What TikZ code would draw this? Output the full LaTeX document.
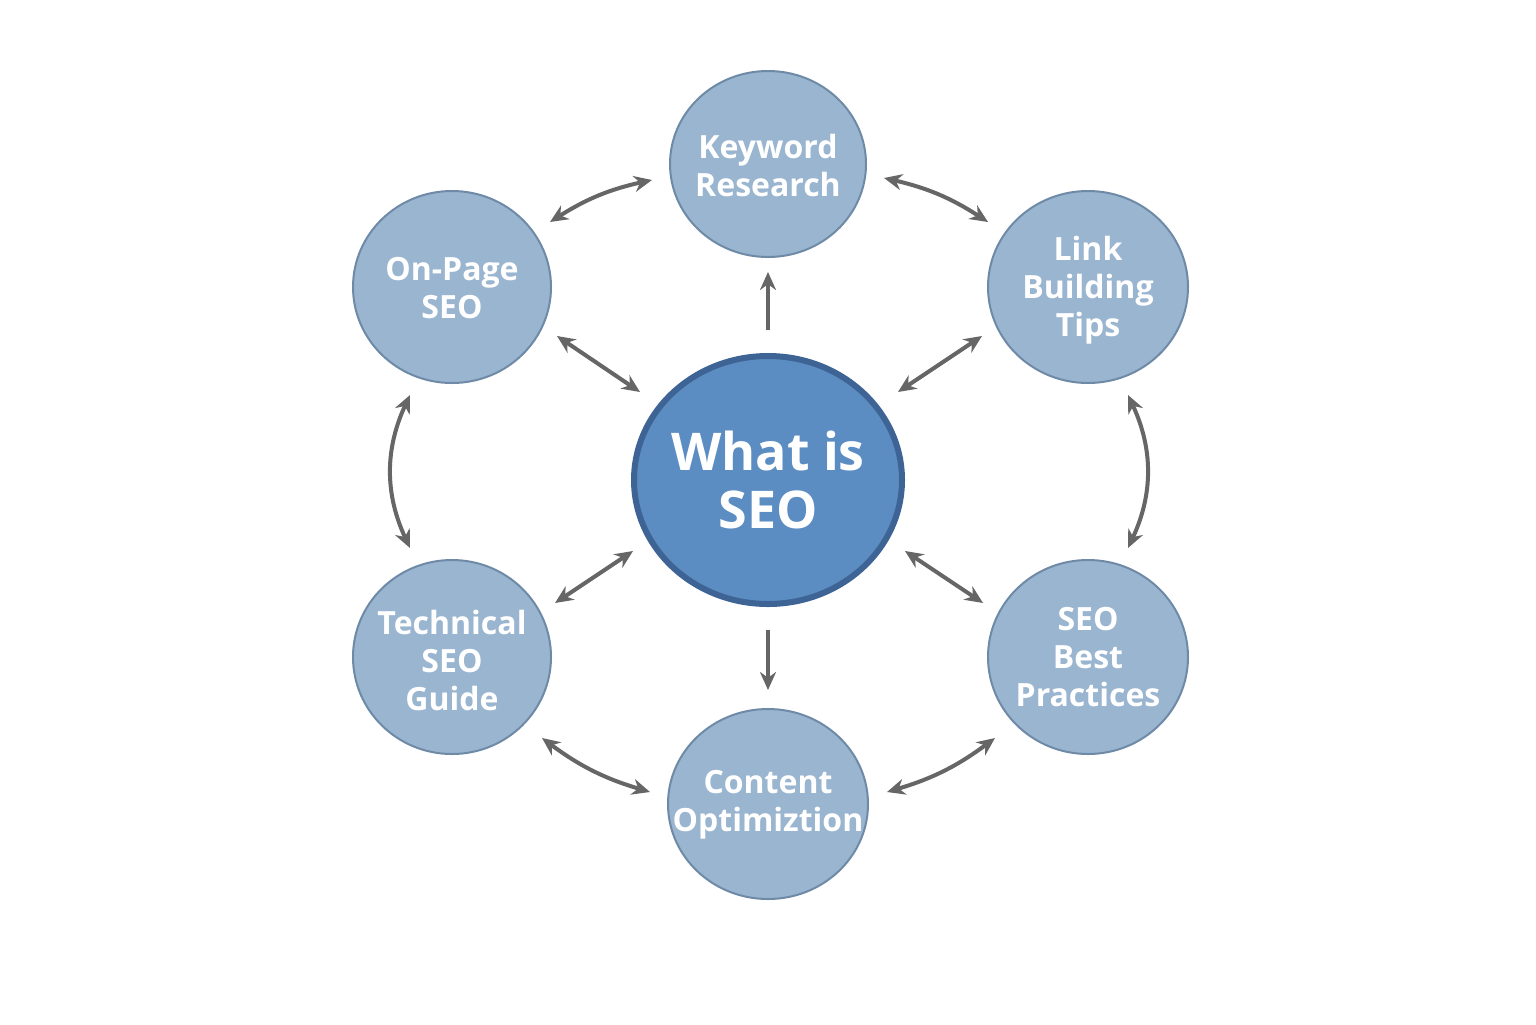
\documentclass[tikz,border=0pt]{standalone}
\usepackage{fontspec}
\setmainfont{Open Sans}
\usetikzlibrary{arrows.meta}
\definecolor{outerfill}{HTML}{9AB5D0}
\definecolor{outerline}{HTML}{6F8AA6}
\definecolor{cfill}{HTML}{5B8CC2}
\definecolor{cline}{HTML}{3D6494}
\definecolor{arr}{HTML}{666666}
\begin{document}
\begin{tikzpicture}[x=0.5pt,y=-0.5pt,
 outer/.style={ellipse-ish},
 bub/.style={draw=outerline,fill=outerfill,line width=1pt,text=white,font=\bfseries\fontsize{16}{19}\selectfont,align=center},
 con/.style={draw=arr,line width=2pt,{Stealth[length=9pt,width=8pt]}-{Stealth[length=9pt,width=8pt]}},
 one/.style={draw=arr,line width=2pt,-{Stealth[length=9pt,width=8pt]}}]
\tikzset{ellipse-ish/.style={}}
\useasboundingbox (0,0) rectangle (1536,1024);
\fill[white] (0,0) rectangle (1536,1024);
\newcommand{\bubble}[5]{\draw[draw=outerline,fill=outerfill,line width=1pt] (#2,#3) ellipse [x radius=#4*0.5pt, y radius=#5*0.5pt];}
% outer bubbles
\draw[draw=outerline,fill=outerfill,line width=1pt] (768,164) ellipse [x radius=49pt,y radius=46.5pt];
\draw[draw=outerline,fill=outerfill,line width=1pt] (452,287) ellipse [x radius=49.5pt,y radius=48pt];
\draw[draw=outerline,fill=outerfill,line width=1pt] (1088,287) ellipse [x radius=50pt,y radius=48pt];
\draw[draw=outerline,fill=outerfill,line width=1pt] (452,657) ellipse [x radius=49.5pt,y radius=48.5pt];
\draw[draw=outerline,fill=outerfill,line width=1pt] (1088,657) ellipse [x radius=50pt,y radius=48.5pt];
\draw[draw=outerline,fill=outerfill,line width=1pt] (768,804) ellipse [x radius=50pt,y radius=47.5pt];
\draw[draw=cline,fill=cfill,line width=3pt] (768,480) ellipse [x radius=67pt,y radius=62pt];
\node[text=white,font=\bfseries\fontsize{26}{29}\selectfont,align=center] (c) at (768,480) {What is\\SEO};
\node[bub,draw=none,fill=none] (kw) at (768,165) {Keyword\\Research};
\node[bub,draw=none,fill=none] (op) at (452,288) {On-Page\\SEO};
\node[bub,draw=none,fill=none] (lb) at (1088,290) {Link\\Building\\Tips};
\node[bub,draw=none,fill=none] (ts) at (452,660) {Technical\\SEO\\Guide};
\node[bub,draw=none,fill=none] (bp) at (1088,657) {SEO\\Best\\Practices};
\node[bub,draw=none,fill=none] (co) at (768,805) {Content\\Optimiztion};
% arrow endpoints
\coordinate (a1) at (652,180); \coordinate (a2) at (550,222);
\coordinate (b1) at (884,178); \coordinate (b2) at (988,222);
\coordinate (c1) at (768,330); \coordinate (c2) at (768,272);
\coordinate (d1) at (557,336); \coordinate (d2) at (640,392);
\coordinate (e1) at (982,336); \coordinate (e2) at (898,392);
\coordinate (f1) at (410,395); \coordinate (f2) at (410,548);
\coordinate (g1) at (1128,395); \coordinate (g2) at (1128,548);
\coordinate (h1) at (555,603); \coordinate (h2) at (633,551);
\coordinate (i1) at (983,603); \coordinate (i2) at (905,551);
\coordinate (j1) at (768,630); \coordinate (j2) at (768,690);
\coordinate (k1) at (542,738); \coordinate (k2) at (650,792);
\coordinate (l1) at (995,738); \coordinate (l2) at (887,792);
\draw[con] (a1) to[bend right=10] (a2);
\draw[con] (b1) to[bend left=10] (b2);
\draw[one] (c1) -- (c2);
\draw[con] (d1) -- (d2);
\draw[con] (e1) -- (e2);
\draw[con] (f1) to[bend right=25] (f2);
\draw[con] (g1) to[bend left=25] (g2);
\draw[con] (h1) -- (h2);
\draw[con] (i1) -- (i2);
\draw[one] (j1) -- (j2);
\draw[con] (k1) to[bend right=10] (k2);
\draw[con] (l1) to[bend left=10] (l2);
\end{tikzpicture}
\end{document}
